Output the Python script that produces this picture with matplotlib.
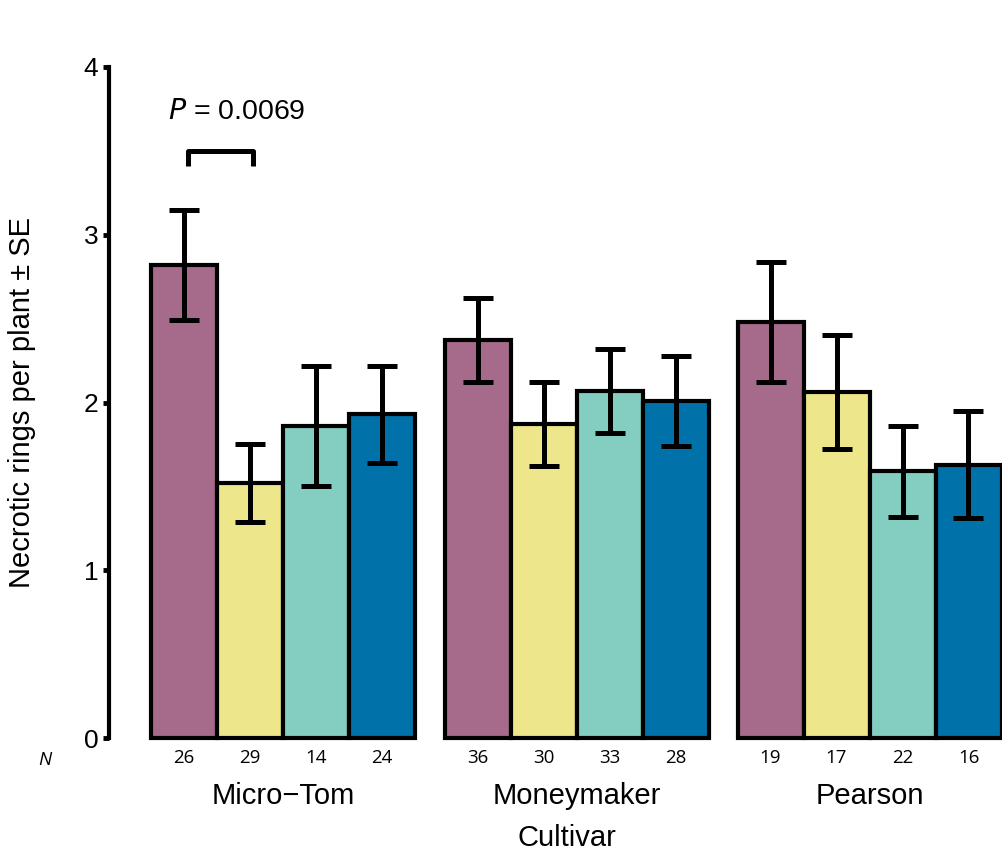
import numpy as np
import matplotlib
matplotlib.use('Agg')
import matplotlib.pyplot as plt

plt.rcParams['font.family'] = ['Liberation Sans', 'DejaVu Sans']

# Data
cultivars = ['Micro\u2212Tom', 'Moneymaker', 'Pearson']
means = [[2.82, 1.52, 1.86, 1.93],
         [2.37, 1.87, 2.07, 2.01],
         [2.48, 2.06, 1.59, 1.63]]
ses = [[0.33, 0.23, 0.36, 0.29],
       [0.25, 0.25, 0.25, 0.27],
       [0.355, 0.34, 0.27, 0.32]]
n_labels = [['26', '29', '14', '24'],
            ['36', '30', '33', '28'],
            ['19', '17', '22', '16']]
colors = ['#A66A8A', '#EDE68A', '#84CEC1', '#0071A9']
p_text = '$P$ = 0.0069'

W, H = 1002, 852
fig = plt.figure(figsize=(W / 100, H / 100), dpi=100)

y0_px, y4_px = 738, 67
panel_left = [151, 444.5, 737.5]
panel_w = 264
bottom = 1 - y0_px / H
height = (y0_px - y4_px) / H

positions = np.arange(4)
axes = []
for i, name in enumerate(cultivars):
    ax = fig.add_axes([panel_left[i] / W, bottom, panel_w / W, height])
    ax.bar(positions, means[i], width=1.0, color=colors, edgecolor='black',
           linewidth=3, clip_on=False, zorder=2)
    ax.errorbar(positions, means[i], yerr=ses[i], fmt='none', ecolor='black',
                elinewidth=3.6, capsize=10.5, capthick=3.6, zorder=3, clip_on=False)
    ax.set_xlim(-0.5, 3.5)
    ax.set_ylim(0, 4)
    for s in ['top', 'right', 'bottom']:
        ax.spines[s].set_visible(False)
    ax.set_xticks(positions, labels=n_labels[i])
    ax.tick_params(axis='x', length=0, pad=8)
    for lab in ax.get_xticklabels():
        lab.set_fontfamily('Open Sans')
        lab.set_fontsize(13.5)
    ax.set_xlabel(name, fontsize=21, labelpad=11)
    if i == 0:
        sp = ax.spines['left']
        sp.set_position(('outward', 30))
        sp.set_linewidth(3)
        sp.set_bounds(0, 4)
        ax.set_yticks([0, 1, 2, 3, 4])
        ax.tick_params(axis='y', length=4, width=3.5, labelsize=19, pad=4)
        ax.set_ylabel('Necrotic rings per plant \u00b1 SE', fontsize=21, labelpad=34)
    else:
        ax.spines['left'].set_visible(False)
        ax.set_yticks([])
    axes.append(ax)

# significance bracket
ax = axes[0]
bx0, bx1 = positions[0] + 0.06, positions[1] + 0.04
ax.plot([bx0, bx0, bx1, bx1], [3.41, 3.5, 3.5, 3.41], color='black',
        linewidth=3.6, solid_capstyle='butt', clip_on=False)
ax.text(positions[0] - 0.24, 3.73, p_text, fontsize=20.5, ha='left', va='center')

fig.text(45 / W, 1 - 760 / H, 'N', fontstyle='italic', fontsize=13.5,
         family='Open Sans', ha='center', va='center')
fig.text(567 / W, 1 - 838 / H, 'Cultivar', fontsize=21, ha='center', va='center')

fig.savefig('out.png', dpi=100)
